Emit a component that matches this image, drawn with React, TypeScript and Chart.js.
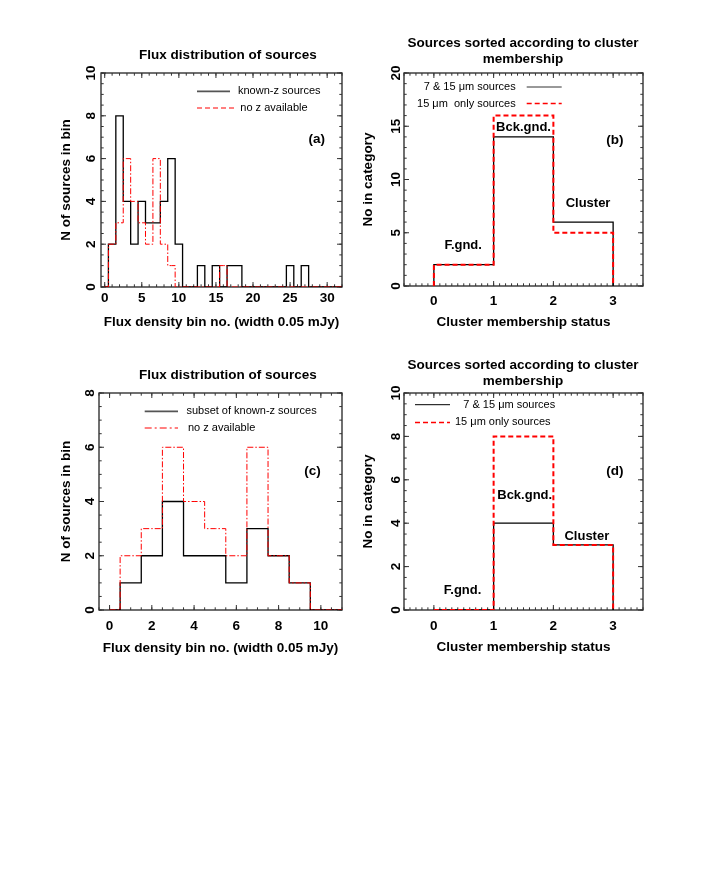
import React, { useEffect, useRef } from 'react';
import { Chart, registerables } from 'chart.js';

Chart.register(...registerables);

const FONT = "'Liberation Sans', Arial, Helvetica, sans-serif";
const RED = '#ff0000';
const FRAME = '#333333';

// ---------- Panel (a): flux distribution, all sources ----------
const A_BINS = [0, 1, 2, 3, 4, 5, 6, 7, 8, 9, 10, 11, 12, 13, 14, 15, 16, 17, 18, 19, 20, 21, 22, 23, 24, 25, 26, 27, 28, 29, 30, 31, 32];
const A_KNOWN_Z = [0, 2, 8, 4, 2, 4, 3, 3, 4, 6, 2, 0, 0, 1, 0, 1, 0, 1, 1, 0, 0, 0, 0, 0, 0, 1, 0, 1, 0, 0, 0, 0, 0];
const A_NO_Z = [0, 2, 3, 6, 4, 3, 2, 6, 2, 1, 0, 0, 0, 0, 0, 0, 1, 0, 0, 0, 0, 0, 0, 0, 0, 0, 0, 0, 0, 0, 0, 0, 0];
const A_XTICKS = [0, 5, 10, 15, 20, 25, 30];
const A_YTICKS = [0, 2, 4, 6, 8, 10];

// ---------- Panel (b): cluster membership, all sources ----------
const MEMBER_EDGES = [0, 1, 2, 3];
const MEMBER_CATEGORIES = ['F.gnd.', 'Bck.gnd.', 'Cluster'];
const B_BOTH_BANDS = [2, 14, 6];
const B_ONLY_15 = [2, 16, 5];
const MEMBER_XTICKS = [0, 1, 2, 3];
const B_YTICKS = [0, 5, 10, 15, 20];

// ---------- Panel (c): flux distribution, subset ----------
const C_BINS = [0, 1, 2, 3, 4, 5, 6, 7, 8, 9, 10, 11];
const C_SUBSET_KNOWN_Z = [0, 1, 2, 4, 2, 2, 1, 3, 2, 1, 0, 0];
const C_NO_Z = [0, 2, 3, 6, 4, 3, 2, 6, 2, 1, 0, 0];
const C_XTICKS = [0, 2, 4, 6, 8, 10];
const C_YTICKS = [0, 2, 4, 6, 8];

// ---------- Panel (d): cluster membership, subset ----------
const D_BOTH_BANDS = [0, 4, 3];
const D_ONLY_15 = [0, 8, 3];
const D_YTICKS = [0, 2, 4, 6, 8, 10];

type Pt = { x: number; y: number };

function binPoints(bins: number[], counts: number[]): Pt[] {
  return bins.map((b, i) => ({ x: b, y: counts[i] }));
}

function edgePoints(edges: number[], counts: number[]): Pt[] {
  const pts: Pt[] = [{ x: edges[0], y: 0 }];
  counts.forEach((c, i) => pts.push({ x: edges[i + 1], y: c }));
  pts.push({ x: edges[edges.length - 1], y: 0 });
  return pts;
}

type LegendItem = {
  text: string; color: string; width: number; dash: number[];
  y: number; x1: number; x2: number; tx: number; align: CanvasTextAlign;
};
type Note = { text: string; x: number; y: number; size: number };

type PanelParams = {
  left: number; top: number; width: number; height: number;
  title: string | string[]; titleLH: number; titlePadTop: number; titlePadBottom: number;
  xMin: number; xMax: number; yMin: number; yMax: number;
  xTicks: number[]; yTicks: number[]; xMinor: number; yMinor: number;
  xTitle: string; yTitle: string;
  yWidth: number; rightWidth: number; xHeight: number;
  yTitlePad: number; yTickPad: number; xTickPad: number; xTitlePadBottom: number;
  datasets: any[];
  legend: LegendItem[];
  notes: Note[];
};

function makeFramePlugin(p: PanelParams) {
  return {
    id: 'frameTicks',
    beforeDatasetsDraw(chart: any) {
      const { ctx, chartArea } = chart;
      const { left, right, top, bottom } = chartArea;
      const xs = chart.scales.x;
      const ys = chart.scales.y;
      ctx.save();
      ctx.strokeStyle = FRAME;
      ctx.lineWidth = 1.4;
      ctx.strokeRect(left, top, right - left, bottom - top);
      ctx.lineWidth = 1;
      const seg = (x1: number, y1: number, x2: number, y2: number) => {
        ctx.beginPath();
        ctx.moveTo(x1, y1);
        ctx.lineTo(x2, y2);
        ctx.stroke();
      };
      const MAJ = 5;
      const MIN = 2.7;
      for (let k = Math.ceil(p.xMin / p.xMinor - 1e-9); k * p.xMinor <= p.xMax + 1e-9; k++) {
        const px = xs.getPixelForValue(k * p.xMinor);
        seg(px, bottom, px, bottom - MIN);
        seg(px, top, px, top + MIN);
      }
      for (let k = Math.ceil(p.yMin / p.yMinor - 1e-9); k * p.yMinor <= p.yMax + 1e-9; k++) {
        const py = ys.getPixelForValue(k * p.yMinor);
        seg(left, py, left + MIN, py);
        seg(right, py, right - MIN, py);
      }
      xs.ticks.forEach((t: any) => {
        const px = xs.getPixelForValue(t.value);
        seg(px, bottom, px, bottom - MAJ);
        seg(px, top, px, top + MAJ);
      });
      ys.ticks.forEach((t: any) => {
        const py = ys.getPixelForValue(t.value);
        seg(left, py, left + MAJ, py);
        seg(right, py, right - MAJ, py);
      });
      ctx.restore();
    },
    afterDatasetsDraw(chart: any) {
      const { ctx, chartArea } = chart;
      const { left, top } = chartArea;
      const xs = chart.scales.x;
      const ys = chart.scales.y;
      ctx.save();
      p.legend.forEach((it) => {
        ctx.strokeStyle = it.color;
        ctx.lineWidth = it.width;
        ctx.setLineDash(it.dash);
        ctx.beginPath();
        ctx.moveTo(left + it.x1, top + it.y);
        ctx.lineTo(left + it.x2, top + it.y);
        ctx.stroke();
        ctx.setLineDash([]);
        ctx.fillStyle = '#000';
        ctx.font = `11px ${FONT}`;
        ctx.textAlign = it.align;
        ctx.textBaseline = 'middle';
        ctx.fillText(it.text, left + it.tx, top + it.y);
      });
      p.notes.forEach((n) => {
        ctx.fillStyle = '#000';
        ctx.font = `bold ${n.size}px ${FONT}`;
        ctx.textAlign = 'center';
        ctx.textBaseline = 'middle';
        ctx.fillText(n.text, xs.getPixelForValue(n.x), ys.getPixelForValue(n.y));
      });
      ctx.restore();
    },
  };
}

function buildConfig(p: PanelParams): any {
  const font = { family: FONT, size: 13.5, weight: 'bold' as const };
  return {
    type: 'line',
    data: { datasets: p.datasets },
    options: {
      animation: false,
      responsive: false,
      events: [],
      layout: { padding: 0 },
      elements: { point: { radius: 0 } },
      plugins: {
        legend: { display: false },
        tooltip: { enabled: false },
        title: {
          display: true,
          text: p.title,
          color: '#000',
          font: { ...font, lineHeight: p.titleLH },
          padding: { top: p.titlePadTop, bottom: p.titlePadBottom },
        },
      },
      scales: {
        x: {
          type: 'linear',
          position: 'bottom',
          min: p.xMin,
          max: p.xMax,
          grid: { display: false, drawTicks: false, tickLength: 0 },
          border: { display: false },
          ticks: { color: '#000', font, padding: p.xTickPad, autoSkip: false, maxRotation: 0 },
          afterBuildTicks: (s: any) => { s.ticks = p.xTicks.map((v) => ({ value: v })); },
          afterFit: (s: any) => { s.height = p.xHeight; },
          title: { display: true, text: p.xTitle, color: '#000', font, padding: { top: 0, bottom: p.xTitlePadBottom } },
        },
        y: {
          type: 'linear',
          position: 'left',
          min: p.yMin,
          max: p.yMax,
          grid: { display: false, drawTicks: false, tickLength: 0 },
          border: { display: false },
          ticks: { color: '#000', font, padding: p.yTickPad, autoSkip: false, minRotation: 90, maxRotation: 90, crossAlign: 'center' },
          afterBuildTicks: (s: any) => { s.ticks = p.yTicks.map((v) => ({ value: v })); },
          afterFit: (s: any) => { s.width = p.yWidth; },
          title: { display: true, text: p.yTitle, color: '#000', font, padding: { top: p.yTitlePad, bottom: 0 } },
        },
        yR: {
          type: 'linear',
          position: 'right',
          display: true,
          min: 0,
          max: 1,
          grid: { display: false, drawTicks: false },
          border: { display: false },
          ticks: { display: false },
          afterFit: (s: any) => { s.width = p.rightWidth; },
        },
      },
    },
    plugins: [makeFramePlugin(p)],
  };
}

function Panel({ p }: { p: PanelParams }) {
  const ref = useRef<HTMLCanvasElement>(null);
  useEffect(() => {
    const chart = new Chart(ref.current as HTMLCanvasElement, buildConfig(p));
    return () => chart.destroy();
  }, []);
  return (
    <canvas
      ref={ref}
      width={p.width}
      height={p.height}
      style={{ position: 'absolute', left: p.left, top: p.top, width: p.width, height: p.height }}
    />
  );
}

const histStyleBlack = { borderColor: '#000', borderWidth: 1.3, fill: false, pointRadius: 0, order: 1 };
const histStyleRedDashDot = { borderColor: RED, borderWidth: 1, borderDash: [6, 2, 1.5, 2], fill: false, pointRadius: 0, order: 0 };
const memberRedDashed = { borderColor: RED, borderWidth: 2, borderDash: [5, 3], fill: false, pointRadius: 0, order: 0 };

const FLUX_TITLE = 'Flux distribution of sources';
const FLUX_XTITLE = 'Flux density bin no. (width 0.05 mJy)';
const FLUX_YTITLE = 'N of sources in bin';
const MEMBER_TITLE = ['Sources sorted according to cluster', 'membership'];
const MEMBER_XTITLE = 'Cluster membership status';
const MEMBER_YTITLE = 'No in category';
const MU = '\u03bc';

const panelA: PanelParams = {
  left: 50, top: 30, width: 356, height: 310,
  title: FLUX_TITLE, titleLH: 1.2, titlePadTop: 16.9, titlePadBottom: 9.9,
  xMin: -0.5, xMax: 32, yMin: 0, yMax: 10,
  xTicks: A_XTICKS, yTicks: A_YTICKS, xMinor: 1, yMinor: 0.5,
  xTitle: FLUX_XTITLE, yTitle: FLUX_YTITLE,
  yWidth: 51, rightWidth: 64, xHeight: 53,
  yTitlePad: 8.6, yTickPad: 1.8, xTickPad: 3.2, xTitlePadBottom: 9.2,
  datasets: [
    { ...histStyleBlack, label: 'known-z sources', data: binPoints(A_BINS, A_KNOWN_Z), stepped: 'middle' },
    { ...histStyleRedDashDot, label: 'no z available', data: binPoints(A_BINS, A_NO_Z), stepped: 'middle' },
  ],
  legend: [
    { text: 'known-z sources', color: '#555', width: 1.8, dash: [], y: 18.4, x1: 96, x2: 129, tx: 137, align: 'left' },
    { text: 'no z available', color: RED, width: 1, dash: [5, 3], y: 35, x1: 96, x2: 134, tx: 139.3, align: 'left' },
  ],
  notes: [{ text: '(a)', x: 28.6, y: 6.88, size: 13.5 }],
};

const panelB: PanelParams = {
  left: 355, top: 30, width: 336, height: 310,
  title: MEMBER_TITLE, titleLH: 16 / 13.5, titlePadTop: 5.3, titlePadBottom: 5.7,
  xMin: -0.5, xMax: 3.5, yMin: 0, yMax: 20,
  xTicks: MEMBER_XTICKS, yTicks: B_YTICKS, xMinor: 0.1, yMinor: 1,
  xTitle: MEMBER_XTITLE, yTitle: MEMBER_YTITLE,
  yWidth: 49, rightWidth: 48, xHeight: 54,
  yTitlePad: 5.2, yTickPad: 0, xTickPad: 7.6, xTitlePadBottom: 9.2,
  datasets: [
    { ...histStyleBlack, label: `7 & 15 ${MU}m sources`, data: edgePoints(MEMBER_EDGES, B_BOTH_BANDS), stepped: 'after' },
    { ...memberRedDashed, label: `15 ${MU}m only sources`, data: edgePoints(MEMBER_EDGES, B_ONLY_15), stepped: 'after' },
  ],
  legend: [
    { text: `7 & 15 ${MU}m sources`, color: '#333', width: 1, dash: [], y: 14, x1: 122.7, x2: 157.7, tx: 111.7, align: 'right' },
    { text: `15 ${MU}m  only sources`, color: RED, width: 1.5, dash: [5, 3], y: 30.6, x1: 122.7, x2: 157.7, tx: 111.7, align: 'right' },
  ],
  notes: [
    { text: MEMBER_CATEGORIES[0], x: 0.49, y: 3.84, size: 13 },
    { text: MEMBER_CATEGORIES[1], x: 1.5, y: 14.93, size: 13 },
    { text: MEMBER_CATEGORIES[2], x: 2.58, y: 7.75, size: 13 },
    { text: '(b)', x: 3.03, y: 13.7, size: 13.5 },
  ],
};

const panelC: PanelParams = {
  left: 50, top: 355, width: 356, height: 310,
  title: FLUX_TITLE, titleLH: 1.2, titlePadTop: 11.9, titlePadBottom: 9.9,
  xMin: -0.5, xMax: 11, yMin: 0, yMax: 8,
  xTicks: C_XTICKS, yTicks: C_YTICKS, xMinor: 0.5, yMinor: 0.5,
  xTitle: FLUX_XTITLE, yTitle: FLUX_YTITLE,
  yWidth: 49, rightWidth: 64, xHeight: 55,
  yTitlePad: 8.6, yTickPad: 5.25, xTickPad: 8.6, xTitlePadBottom: 8.6,
  datasets: [
    { ...histStyleBlack, label: 'subset of known-z sources', data: binPoints(C_BINS, C_SUBSET_KNOWN_Z), stepped: 'middle' },
    { ...histStyleRedDashDot, label: 'no z available', data: binPoints(C_BINS, C_NO_Z), stepped: 'middle' },
  ],
  legend: [
    { text: 'subset of known-z sources', color: '#555', width: 1.8, dash: [], y: 18.4, x1: 45.7, x2: 79, tx: 87.4, align: 'left' },
    { text: 'no z available', color: RED, width: 1, dash: [7, 3, 2, 3], y: 35, x1: 45.7, x2: 79, tx: 89, align: 'left' },
  ],
  notes: [{ text: '(c)', x: 9.6, y: 5.1, size: 13.5 }],
};

const panelD: PanelParams = {
  left: 355, top: 355, width: 336, height: 310,
  title: MEMBER_TITLE, titleLH: 16 / 13.5, titlePadTop: 2, titlePadBottom: 4,
  xMin: -0.5, xMax: 3.5, yMin: 0, yMax: 10,
  xTicks: MEMBER_XTICKS, yTicks: D_YTICKS, xMinor: 0.1, yMinor: 0.5,
  xTitle: MEMBER_XTITLE, yTitle: MEMBER_YTITLE,
  yWidth: 49, rightWidth: 48, xHeight: 55,
  yTitlePad: 5.2, yTickPad: 0, xTickPad: 8.6, xTitlePadBottom: 9.6,
  datasets: [
    { ...histStyleBlack, label: `7 & 15 ${MU}m sources`, data: edgePoints(MEMBER_EDGES, D_BOTH_BANDS), stepped: 'after' },
    { ...memberRedDashed, label: `15 ${MU}m only sources`, data: edgePoints(MEMBER_EDGES, D_ONLY_15), stepped: 'after' },
  ],
  legend: [
    { text: `7 & 15 ${MU}m sources`, color: '#000', width: 1, dash: [], y: 11.7, x1: 11, x2: 46, tx: 59.3, align: 'left' },
    { text: `15 ${MU}m only sources`, color: RED, width: 1.5, dash: [5, 3], y: 29.4, x1: 11, x2: 46, tx: 51, align: 'left' },
  ],
  notes: [
    { text: MEMBER_CATEGORIES[0], x: 0.48, y: 0.92, size: 13 },
    { text: MEMBER_CATEGORIES[1], x: 1.52, y: 5.26, size: 13 },
    { text: MEMBER_CATEGORIES[2], x: 2.56, y: 3.41, size: 13 },
    { text: '(d)', x: 3.03, y: 6.38, size: 13.5 },
  ],
};

export default function App() {
  return (
    <div style={{ position: 'relative', width: 690, height: 860 }}>
      <div style={{ position: 'absolute', left: -8, top: -8, width: 706, height: 880 }}>
        <Panel p={panelA} />
        <Panel p={panelB} />
        <Panel p={panelC} />
        <Panel p={panelD} />
      </div>
    </div>
  );
}
